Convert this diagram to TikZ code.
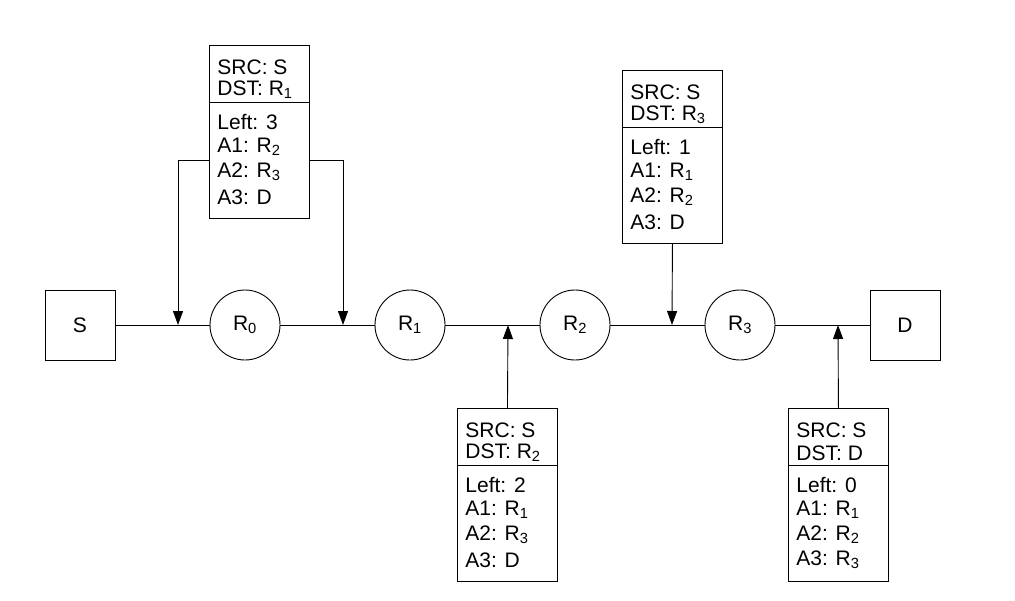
\documentclass[tikz,border=0pt]{standalone}
\usepackage{fontspec}
\setmainfont{Liberation Sans}
\usetikzlibrary{arrows.meta}
\newcommand{\sub}[1]{\textsubscript{#1}}
\newcommand{\pkt}[8]{%
  \node[pbox,anchor=north west] (#1) at (#2,#3) {};
  \draw ([yshift=-57pt]#1.north west) -- ([yshift=-57pt]#1.north east);
  \node[ptxt] (#1t1) at ([shift={(8pt,-22pt)}]#1.north west) {SRC: S};
  \node[ptxt] (#1t2) at ([shift={(8pt,-45pt)}]#1.north west) {DST: #4};
  \node[ptxt] (#1t3) at ([shift={(8pt,-77pt)}]#1.north west) {Left: #5};
  \node[ptxt] (#1t4) at ([shift={(8pt,-102pt)}]#1.north west) {A1: #6};
  \node[ptxt] (#1t5) at ([shift={(8pt,-127pt)}]#1.north west) {A2: #7};
  \node[ptxt] (#1t6) at ([shift={(8pt,-152pt)}]#1.north west) {A3: #8};
}
\begin{document}
\begin{tikzpicture}[x=1pt,y=-1pt,line width=0.9pt,
  every node/.style={font=\fontsize{21}{24}\selectfont},
  sq/.style={draw,minimum size=70pt,inner sep=0},
  rt/.style={draw,circle,minimum size=70pt,inner sep=0},
  pbox/.style={draw,minimum width=100pt,minimum height=173pt,inner sep=0},
  ptxt/.style={anchor=west,inner sep=0},
  arr/.style={-{Triangle[length=14pt,width=10pt]}}]
\useasboundingbox (0,0) rectangle (1015,600);
\node[sq] (S) at (80,325) {S};
\node[rt] (R0) at (245,325) {R\sub{0}};
\node[rt] (R1) at (410,325) {R\sub{1}};
\node[rt] (R2) at (575,325) {R\sub{2}};
\node[rt] (R3) at (740,325) {R\sub{3}};
\node[sq] (D) at (905,325) {D};
\coordinate (c1) at (178,325);
\coordinate (c2) at (343,325);
\coordinate (c3) at (508,325);
\coordinate (c4) at (672,325);
\coordinate (c5) at (838,325);
\draw (S) -- (R0) (R0) -- (R1) (R1) -- (R2) (R2) -- (R3) (R3) -- (D);
\pkt{p1}{209}{45}{R\sub{1}}{3}{R\sub{2}}{R\sub{3}}{D}
\pkt{p2}{457}{408}{R\sub{2}}{2}{R\sub{1}}{R\sub{3}}{D}
\pkt{p3}{622}{70}{R\sub{3}}{1}{R\sub{1}}{R\sub{2}}{D}
\pkt{p4}{788}{408}{D}{0}{R\sub{1}}{R\sub{2}}{R\sub{3}}
\draw[arr] ([yshift=-115pt]p1.north west) -| (c1);
\draw[arr] ([yshift=-115pt]p1.north east) -| (c2);
\draw[arr] (p2.north) -- (c3);
\draw[arr] (p3.south) -- (c4);
\draw[arr] (p4.north) -- (c5);
\end{tikzpicture}
\end{document}
